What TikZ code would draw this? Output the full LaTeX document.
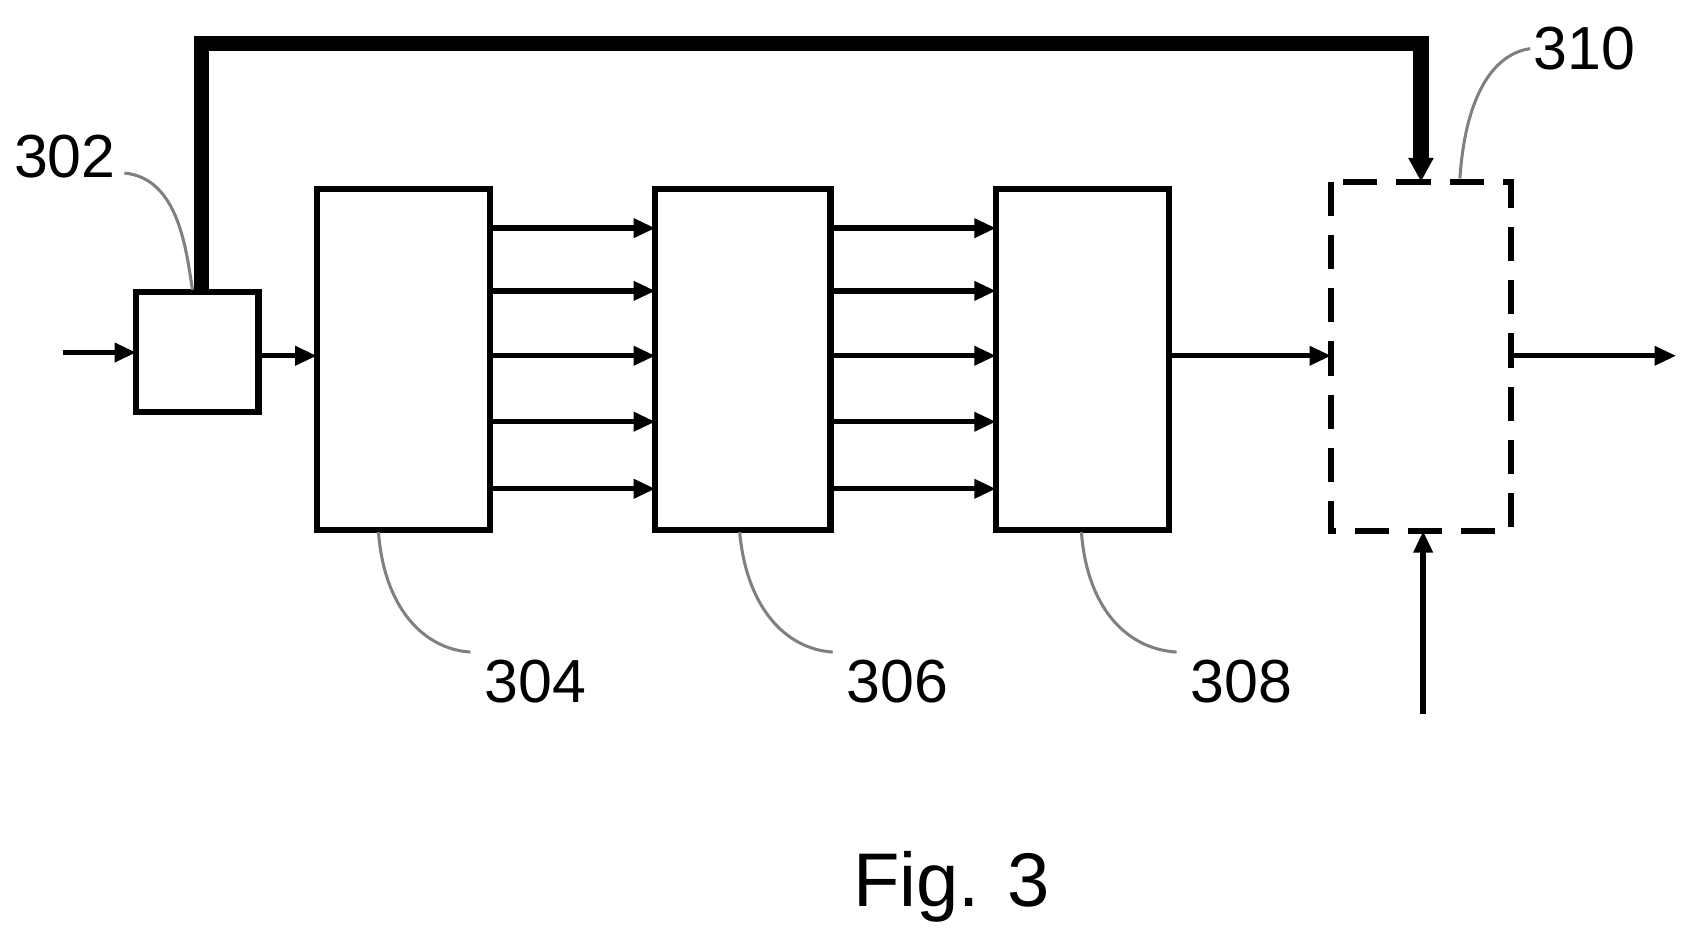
\documentclass[tikz,border=0pt]{standalone}
\usepackage{fontspec}
\setmainfont{Liberation Sans}
\usetikzlibrary{arrows.meta}
\begin{document}
\begin{tikzpicture}[x=0.01cm,y=-0.01cm,
  blk/.style={draw,line width=1.6pt,inner sep=0},
  arr/.style={line width=1.4pt,-{Triangle[length=0.2cm,width=0.17cm]}},
  lead/.style={gray,line width=0.8pt},
  lbl/.style={font=\fontsize{16}{18}\selectfont}]
\useasboundingbox (0,0) rectangle (1560,874);
\coordinate (a1) at (126,270); \coordinate (a2) at (239,381);
\draw[blk] (126,270) rectangle (239,381);
\coordinate (b) at (126,326); \coordinate (bin) at (58,326);
\draw[blk] (293,175) rectangle (453,490);
\draw[blk] (606,175) rectangle (768,490);
\draw[blk] (921,175) rectangle (1081,490);
\draw[blk,dashed,dash pattern=on 9pt off 5pt] (1231,168) rectangle (1397,491);
\draw[arr] (bin) -- (b);
\draw[arr] (239,329) -- (293,329);
\foreach \y in {211,269,329,390,452}{
  \draw[arr] (453,\y) -- (606,\y);
  \draw[arr] (768,\y) -- (921,\y);}
\draw[arr] (1081,329) -- (1231,329);
\draw[arr] (1397,329) -- (1550,329);
\draw[line width=4pt,-{Triangle[length=0.22cm,width=0.22cm]}] (186,270) -- (186,40) -- (1314,40) -- (1314,168);
\draw[arr] (1316,660) -- (1316,491);
\node[lbl] (l302) at (60,145) {302};
\node[lbl] (l304) at (495,630) {304};
\node[lbl] (l306) at (830,630) {306};
\node[lbl] (l308) at (1148,630) {308};
\node[lbl] (l310) at (1465,45) {310};
\node[font=\fontsize{20}{24}\selectfont] (fig) at (880,820) {Fig. 3};
\draw[lead] (115,160) .. controls (165,165) and (172,230) .. (178,268);
\draw[lead] (350,492) .. controls (355,560) and (390,600) .. (435,603);
\draw[lead] (684,492) .. controls (690,560) and (725,600) .. (770,603);
\draw[lead] (1000,492) .. controls (1005,560) and (1040,600) .. (1088,603);
\draw[lead] (1350,165) .. controls (1355,90) and (1380,50) .. (1415,45);
\end{tikzpicture}
\end{document}
